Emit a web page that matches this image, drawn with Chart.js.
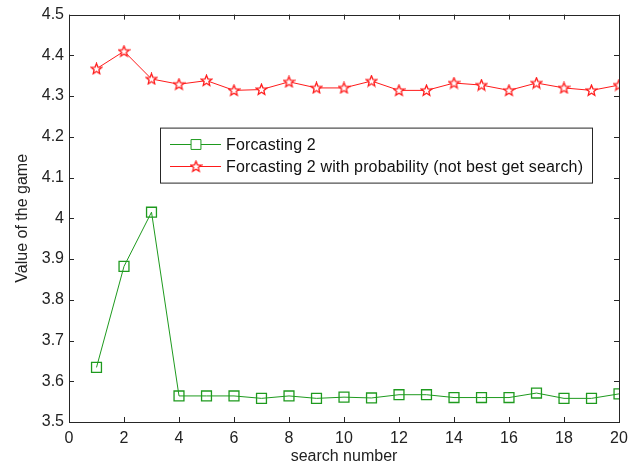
<!DOCTYPE html>
<html>
<head>
<meta charset="utf-8">
<script src="https://cdn.jsdelivr.net/npm/chart.js@4/dist/chart.umd.min.js"></script>
<style>
  html, body { margin: 0; padding: 0; background: #fff; }
  #wrap { width: 638px; height: 466px; }
</style>
</head>
<body>
<div id="wrap"><canvas id="chartGame" width="638" height="466"></canvas></div>
<script>
// Values
const searchNumber = [1, 2, 3, 4, 5, 6, 7, 8, 9, 10, 11, 12, 13, 14, 15, 16, 17, 18, 19, 20];
const forcasting2 = [3.634, 3.882, 4.015, 3.564, 3.564, 3.564, 3.558, 3.564, 3.558, 3.561,
                     3.559, 3.567, 3.567, 3.560, 3.560, 3.560, 3.571, 3.558, 3.558, 3.569];
const forcasting2Prob = [4.367, 4.410, 4.342, 4.329, 4.338, 4.314, 4.316, 4.335, 4.320, 4.320,
                         4.337, 4.314, 4.314, 4.332, 4.327, 4.314, 4.332, 4.320, 4.314, 4.327];
const seriesNames = ["Forcasting 2", "Forcasting 2 with probability (not best get search)"];
const xTitle = "search number";
const yTitle = "Value of the game";

const GREEN = "#1e9a1e";
const RED = "#ff1a1a";
const INK = "#262626";
const FONT = "'Liberation Sans', Arial, sans-serif";
const FONT_SIZE = 16;

// MATLAB style pentagram marker, drawn once on a small canvas
function makePentagram(color) {
  const c = document.createElement("canvas");
  c.width = 13; c.height = 13;
  const g = c.getContext("2d");
  const cx = 6.5, cy = 6.8, ro = 5.6, ri = 2.5;
  g.beginPath();
  for (let i = 0; i < 10; i++) {
    const r = i % 2 === 0 ? ro : ri;
    const a = -Math.PI / 2 + i * Math.PI / 5;
    const px = cx + r * Math.cos(a), py = cy + r * Math.sin(a);
    if (i === 0) g.moveTo(px, py); else g.lineTo(px, py);
  }
  g.closePath();
  g.fillStyle = "#fff";
  g.fill();
  g.strokeStyle = color;
  g.lineWidth = 1.3;
  g.stroke();
  return c;
}
const starMarker = makePentagram(RED);

const toXY = (ys) => ys.map((y, i) => ({ x: searchNumber[i], y: y }));

// Box round the axes plus inward tick marks on all four sides
const matlabAxes = {
  id: "matlabAxes",
  afterDatasetsDraw(chart) {
    const { ctx, chartArea: a, scales } = chart;
    const len = 5;
    ctx.save();
    ctx.strokeStyle = INK;
    ctx.lineWidth = 1;
    ctx.beginPath();
    scales.x.ticks.forEach(t => {
      const px = Math.round(scales.x.getPixelForValue(t.value)) + 0.5;
      ctx.moveTo(px, a.bottom); ctx.lineTo(px, a.bottom - len);
      ctx.moveTo(px, a.top); ctx.lineTo(px, a.top + len);
    });
    scales.y.ticks.forEach(t => {
      const py = Math.round(scales.y.getPixelForValue(t.value)) + 0.5;
      ctx.moveTo(a.left, py); ctx.lineTo(a.left + len, py);
      ctx.moveTo(a.right, py); ctx.lineTo(a.right - len, py);
    });
    ctx.stroke();
    ctx.strokeRect(Math.round(a.left) + 0.5, Math.round(a.top) + 0.5,
                   Math.round(a.right - a.left), Math.round(a.bottom - a.top));
    ctx.restore();
  }
};

// Legend box sitting inside the plot, as in the figure
const boxLegend = {
  id: "boxLegend",
  afterDraw(chart) {
    const { ctx, chartArea: a } = chart;
    const left = a.left + 91, top = a.top + 113, w = 432, h = 55;
    ctx.save();
    ctx.fillStyle = "#fff";
    ctx.fillRect(left, top, w, h);
    ctx.strokeStyle = INK;
    ctx.lineWidth = 1;
    ctx.strokeRect(left + 0.5, top + 0.5, w, h);
    ctx.font = FONT_SIZE + "px " + FONT;
    ctx.letterSpacing = "0.15px";
    ctx.textBaseline = "middle";
    chart.data.datasets.forEach((ds, i) => {
      const y = Math.round(top + 16 + i * 22.5) + 0.5;
      ctx.strokeStyle = ds.borderColor;
      ctx.beginPath();
      ctx.moveTo(left + 10, y); ctx.lineTo(left + 61, y);
      ctx.stroke();
      Chart.helpers.drawPoint(ctx, {
        pointStyle: ds.pointStyle, radius: ds.pointRadius,
        borderWidth: ds.pointBorderWidth, rotation: 0
      }, left + 36, y);
      ctx.fillStyle = "#111";
      ctx.fillText(ds.label, left + 66, y + 1);
    });
    ctx.restore();
  }
};

new Chart(document.getElementById("chartGame").getContext("2d"), {
  type: "line",
  data: {
    datasets: [{
      label: seriesNames[0],
      data: toXY(forcasting2),
      borderColor: GREEN,
      borderWidth: 1,
      pointStyle: "rect",
      pointRadius: 7,
      pointBorderWidth: 1.3,
      pointBorderColor: GREEN,
      pointBackgroundColor: "rgba(255,255,255,0)",
      tension: 0
    }, {
      label: seriesNames[1],
      data: toXY(forcasting2Prob),
      borderColor: RED,
      borderWidth: 1,
      pointStyle: starMarker,
      pointRadius: 6,
      pointBorderWidth: 1,
      tension: 0
    }]
  },
  options: {
    responsive: false,
    animation: false,
    layout: { padding: { top: 14, right: 19, left: 0, bottom: 0 } },
    plugins: {
      legend: { display: false },
      tooltip: { enabled: false }
    },
    scales: {
      x: {
        type: "linear",
        min: 0, max: 20,
        afterFit(scale) { scale.height = 44; },
        grid: { display: false, drawTicks: false },
        border: { display: false },
        ticks: { stepSize: 2, padding: 7, color: "#222", font: { family: FONT, size: FONT_SIZE } },
        title: { display: true, text: xTitle, color: "#222", font: { family: FONT, size: FONT_SIZE }, padding: { top: 0, bottom: 0 } }
      },
      y: {
        min: 3.5, max: 4.5,
        afterFit(scale) { scale.width = 69; },
        grid: { display: false, drawTicks: false },
        border: { display: false },
        ticks: {
          stepSize: 0.1, padding: 5, color: "#222", font: { family: FONT, size: FONT_SIZE },
          callback: v => String(Number(v.toFixed(1)))
        },
        title: { display: true, text: yTitle, color: "#222", font: { family: FONT, size: FONT_SIZE }, padding: { top: 13, bottom: 0 } }
      }
    }
  },
  plugins: [matlabAxes, boxLegend]
});
</script>
</body>
</html>
